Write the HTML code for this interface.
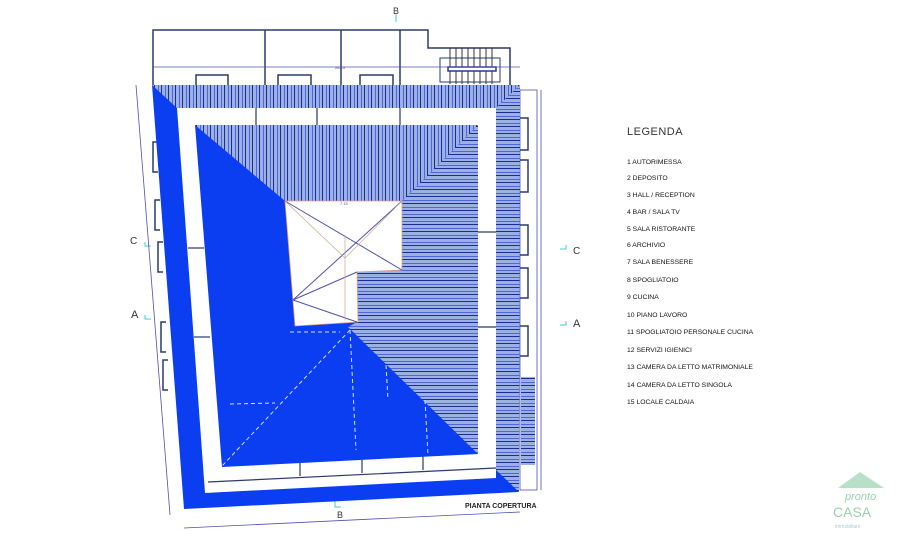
<!DOCTYPE html>
<html><head><meta charset="utf-8"><style>
html,body{margin:0;padding:0;background:#fff;}
svg{display:block}
text{font-family:"Liberation Sans",sans-serif;}
</style></head><body>
<svg width="907" height="544" viewBox="0 0 907 544" xmlns="http://www.w3.org/2000/svg">
<defs>
<pattern id="hv" width="7" height="10" patternUnits="userSpaceOnUse">
<rect width="7" height="10" fill="#9db0e6"/><rect x="0" width="1" height="10" fill="#1a2f8a"/><rect x="4" width="0.7" height="10" fill="#2a48d8"/>
</pattern>
<pattern id="hh" width="10" height="7" patternUnits="userSpaceOnUse">
<rect width="10" height="7" fill="#9db0e6"/><rect y="0" width="10" height="1" fill="#1a2f8a"/><rect y="4" width="10" height="0.7" fill="#2a48d8"/>
</pattern>
</defs>
<g fill="none" stroke="#2a3a6a" stroke-width="1.5">
<path d="M153,85 L153,30 L428,30 L428,48 L510,48 L510,85"/>
<line x1="265" y1="30" x2="265" y2="85"/><line x1="341" y1="30" x2="341" y2="85"/><line x1="400" y1="30" x2="400" y2="85"/>
<rect x="440" y="58" width="60" height="24" stroke-width="1"/>
<path d="M196,85 V75 H228 V85 M278,85 V75 H311 V85 M360,85 V75 H393 V85"/>
</g>
<g stroke="#333" stroke-width="1"><line x1="450" y1="48" x2="450" y2="84"/><line x1="456" y1="48" x2="456" y2="84"/><line x1="462" y1="48" x2="462" y2="84"/><line x1="468" y1="48" x2="468" y2="84"/><line x1="474" y1="48" x2="474" y2="84"/><line x1="480" y1="48" x2="480" y2="84"/><line x1="486" y1="48" x2="486" y2="84"/><line x1="492" y1="48" x2="492" y2="84"/></g>
<rect x="448" y="67" width="48" height="4" fill="#fff" stroke="#2a3a8a" stroke-width="1.5"/>
<line x1="152" y1="67" x2="520" y2="67" stroke="#5050b0" stroke-width="0.8"/>
<text x="335" y="69" font-size="4" fill="#5050b0">28.15</text>
<g stroke="#4cc" stroke-width="1" fill="none"><line x1="396" y1="14" x2="396" y2="22"/><path d="M145,242 v4 h6"/><path d="M145,315 v4 h6"/><path d="M566,245 v4 h-6"/><path d="M566,321 v4 h-6"/><path d="M335,501 v6 h6"/></g>
<text x="396" y="14" font-size="9" fill="#333" text-anchor="middle">B</text>
<text x="130" y="244" font-size="10" fill="#333">C</text>
<text x="131" y="318" font-size="11" fill="#333">A</text>
<text x="573" y="254" font-size="10" fill="#333">C</text>
<text x="573" y="327" font-size="11" fill="#333">A</text>
<text x="340" y="518" font-size="9" fill="#333" text-anchor="middle">B</text>
<g stroke="#5050b0" stroke-width="0.8" fill="none">
<line x1="136" y1="85" x2="170" y2="515"/>
<line x1="184" y1="528" x2="520" y2="512"/>
<line x1="541" y1="90" x2="541" y2="490"/>
<rect x="520" y="90" width="17" height="400"/>
</g>
<g fill="none" stroke="#2a3a6a" stroke-width="1.5">
<path d="M158,142 h-5 v30 h5"/><path d="M160,200 h-5 v30 h5"/><path d="M163,242 h-5 v30 h5"/><path d="M166,322 h-5 v30 h5"/><path d="M168,360 h-5 v30 h5"/>
<path d="M520,118 h8 v32 h-8"/><path d="M520,160 h8 v32 h-8"/><path d="M520,225 h8 v30 h-8"/><path d="M520,268 h8 v30 h-8"/><path d="M520,326 h8 v30 h-8"/>
</g>
<rect x="521" y="377" width="14" height="88" fill="url(#hh)"/>
<polygon points="152,85 520,85 519,492 184,509" fill="#0a3ef0"/>
<polygon points="152,85 520,85 496,108 177,108" fill="url(#hv)"/>
<polygon points="520,85 519,492 496,470 496,108" fill="url(#hh)"/>
<polygon points="177,108 496,108 496,478 205,493" fill="#fff"/>
<g stroke="#2a3a6a" stroke-width="1.2"><line x1="256" y1="108" x2="256" y2="125"/><line x1="317" y1="108" x2="317" y2="125"/><line x1="400" y1="108" x2="400" y2="125"/><line x1="478" y1="232" x2="496" y2="232"/><line x1="478" y1="327" x2="496" y2="327"/><line x1="188" y1="248" x2="204" y2="248"/><line x1="194" y1="337" x2="210" y2="337"/><line x1="208" y1="482" x2="496" y2="468"/><line x1="300" y1="462" x2="300" y2="476"/><line x1="362" y1="459" x2="362" y2="473"/><line x1="423" y1="456" x2="423" y2="470"/></g>
<polygon points="195,125 478,125 478,454 222,467" fill="#0a3ef0"/>
<polygon points="195,125 478,125 402,201 285,201" fill="url(#hv)"/>
<polygon points="402,201 478,125 478,454 348,327 357,322 357,272 402,270" fill="url(#hh)"/>
<polygon points="285,201 402,201 402,270 357,272 358,322 295,326" fill="#fff" stroke="#e0a080" stroke-width="0.8"/>
<g stroke="#5050b0" stroke-width="1" fill="none"><line x1="285" y1="201" x2="402" y2="270"/><line x1="402" y1="201" x2="293" y2="300"/><line x1="293" y1="300" x2="357" y2="272"/><line x1="293" y1="300" x2="357" y2="322"/></g>
<g stroke="#c9a98a" stroke-width="0.7"><line x1="345" y1="235" x2="345" y2="320"/><line x1="285" y1="201" x2="345" y2="258"/><line x1="402" y1="201" x2="345" y2="258"/></g>
<text x="340" y="205" font-size="4" fill="#5050b0">7.15</text>
<g stroke="#cfe0ff" stroke-width="1" stroke-dasharray="4,3" fill="none"><line x1="350" y1="330" x2="222" y2="466"/><line x1="290" y1="332" x2="340" y2="332"/><line x1="230" y1="404" x2="275" y2="403"/><line x1="350" y1="330" x2="356" y2="450"/><line x1="386" y1="365" x2="388" y2="400"/><line x1="425" y1="400" x2="428" y2="455"/></g>
<text x="465" y="508" font-size="7" font-weight="bold" fill="#222">PIANTA COPERTURA</text>
<text x="627" y="135" font-size="11" fill="#333" letter-spacing="0.5">LEGENDA</text>
<g font-size="6.8" fill="#111">
<text x="627" y="164">1 AUTORIMESSA</text>
<text x="627" y="180">2 DEPOSITO</text>
<text x="627" y="197">3 HALL / RECEPTION</text>
<text x="627" y="214">4 BAR / SALA TV</text>
<text x="627" y="231">5 SALA RISTORANTE</text>
<text x="627" y="247">6 ARCHIVIO</text>
<text x="627" y="264">7 SALA BENESSERE</text>
<text x="627" y="282">8 SPOGLIATOIO</text>
<text x="627" y="299">9 CUCINA</text>
<text x="627" y="317">10 PIANO LAVORO</text>
<text x="627" y="334">11 SPOGLIATOIO PERSONALE CUCINA</text>
<text x="627" y="352">12 SERVIZI IGIENICI</text>
<text x="627" y="369">13 CAMERA DA LETTO MATRIMONIALE</text>
<text x="627" y="387">14 CAMERA DA LETTO SINGOLA</text>
<text x="627" y="404">15 LOCALE CALDAIA</text>
</g>
<polygon points="838,488 860,472 884,488" fill="#b8e0c8"/>
<text x="845" y="500" font-size="11" font-style="italic" fill="#9ad0b0" font-family="Liberation Serif,serif">pronto</text>
<text x="833" y="517" font-size="14" fill="#9ad0b0" font-family="Liberation Serif,serif">CASA</text>
<text x="835" y="528" font-size="5" fill="#b0c8e0">immobiliare</text>
</svg>
</body></html>
